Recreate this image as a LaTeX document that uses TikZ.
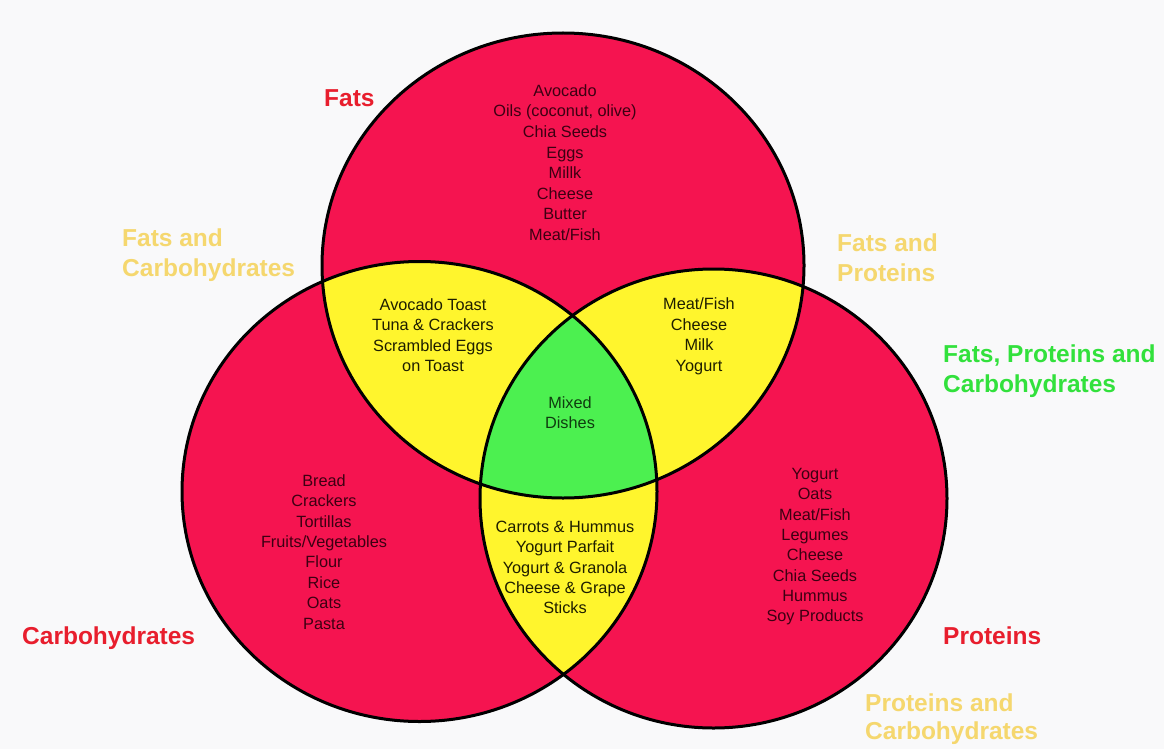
\documentclass[tikz,border=0pt]{standalone}
\usepackage{fontspec}
\setmainfont{Liberation Sans}
\definecolor{bg}{RGB}{249,249,250}
\definecolor{vred}{RGB}{245,20,80}
\definecolor{vyel}{RGB}{255,245,45}
\definecolor{vgrn}{RGB}{76,240,80}
\definecolor{txred}{RGB}{60,0,18}
\definecolor{txyel}{RGB}{30,30,0}
\definecolor{txgrn}{RGB}{15,60,15}
\definecolor{lbred}{RGB}{232,30,45}
\definecolor{lbyel}{RGB}{245,215,110}
\definecolor{lbgrn}{RGB}{50,225,60}
\begin{document}
\begin{tikzpicture}[x=1pt,y=-1pt,
  item/.style={inner sep=0pt, anchor=base, font=\fontsize{16.3}{20}\selectfont},
  lbl/.style={inner sep=0pt, anchor=base west, font=\fontsize{24.5}{29}\selectfont\bfseries},
  outline/.style={draw=black, line width=3pt}]
\useasboundingbox (0,0) rectangle (1164,749);
\fill[bg] (0,0) rectangle (1164,749);
% circles
\fill[vred] (563,265.5) ellipse [x radius=241pt, y radius=232.5pt];
\fill[vred] (419.5,491.5) ellipse [x radius=237.5pt, y radius=230pt];
\fill[vred] (713.5,498.5) ellipse [x radius=233.5pt, y radius=229.5pt];
\begin{scope}
  \clip (563,265.5) ellipse [x radius=241pt, y radius=232.5pt];
  \fill[vyel] (419.5,491.5) ellipse [x radius=237.5pt, y radius=230pt];
  \fill[vyel] (713.5,498.5) ellipse [x radius=233.5pt, y radius=229.5pt];
\end{scope}
\begin{scope}
  \clip (419.5,491.5) ellipse [x radius=237.5pt, y radius=230pt];
  \fill[vyel] (713.5,498.5) ellipse [x radius=233.5pt, y radius=229.5pt];
\end{scope}
\begin{scope}
  \clip (563,265.5) ellipse [x radius=241pt, y radius=232.5pt];
  \clip (419.5,491.5) ellipse [x radius=237.5pt, y radius=230pt];
  \fill[vgrn] (713.5,498.5) ellipse [x radius=233.5pt, y radius=229.5pt];
\end{scope}
\draw[outline] (563,265.5) ellipse [x radius=241pt, y radius=232.5pt];
\draw[outline] (419.5,491.5) ellipse [x radius=237.5pt, y radius=230pt];
\draw[outline] (713.5,498.5) ellipse [x radius=233.5pt, y radius=229.5pt];
% lists
\foreach \t [count=\i] in {Avocado,{Oils (coconut, olive)},Chia Seeds,Eggs,Millk,Cheese,Butter,Meat/Fish}
  \node[item, text=txred] (fats\i) at (565,{96.5+20.5*(\i-1)}) {\t};
\foreach \t [count=\i] in {Avocado Toast,{Tuna \& Crackers},Scrambled Eggs,on Toast}
  \node[item, text=txyel] (fc\i) at (433,{310.5+20.3*(\i-1)}) {\t};
\foreach \t [count=\i] in {Meat/Fish,Cheese,Milk,Yogurt}
  \node[item, text=txyel] (fp\i) at (699,{309.5+20.6*(\i-1)}) {\t};
\foreach \t [count=\i] in {Bread,Crackers,Tortillas,Fruits/Vegetables,Flour,Rice,Oats,Pasta}
  \node[item, text=txred] (carb\i) at (324,{486.2+20.4*(\i-1)}) {\t};
\foreach \t [count=\i] in {Yogurt,Oats,Meat/Fish,Legumes,Cheese,Chia Seeds,Hummus,Soy Products}
  \node[item, text=txred] (prot\i) at (815,{479.5+20.3*(\i-1)}) {\t};
\foreach \t [count=\i] in {{Carrots \& Hummus},Yogurt Parfait,{Yogurt \& Granola},{Cheese \& Grape},Sticks}
  \node[item, text=txyel] (pc\i) at (565,{532.2+20.4*(\i-1)}) {\t};
\node[item, text=txgrn] (mix1) at (570,408.5) {Mixed};
\node[item, text=txgrn] (mix2) at (570,428.5) {Dishes};
% labels
\node[lbl, text=lbred] (lfats) at (324,107) {Fats};
\node[lbl, text=lbyel] (lfc1) at (122,246) {Fats and};
\node[lbl, text=lbyel] (lfc2) at (122,276) {Carbohydrates};
\node[lbl, text=lbyel] (lfp1) at (837,251) {Fats and};
\node[lbl, text=lbyel] (lfp2) at (837,281) {Proteins};
\node[lbl, text=lbgrn] (lall1) at (943,362) {Fats, Proteins and};
\node[lbl, text=lbgrn] (lall2) at (943,392) {Carbohydrates};
\node[lbl, text=lbred] (lcarb) at (22,644) {Carbohydrates};
\node[lbl, text=lbred] (lprot) at (943,644) {Proteins};
\node[lbl, text=lbyel] (lpc1) at (865,711) {Proteins and};
\node[lbl, text=lbyel] (lpc2) at (865,739) {Carbohydrates};
\end{tikzpicture}
\end{document}
